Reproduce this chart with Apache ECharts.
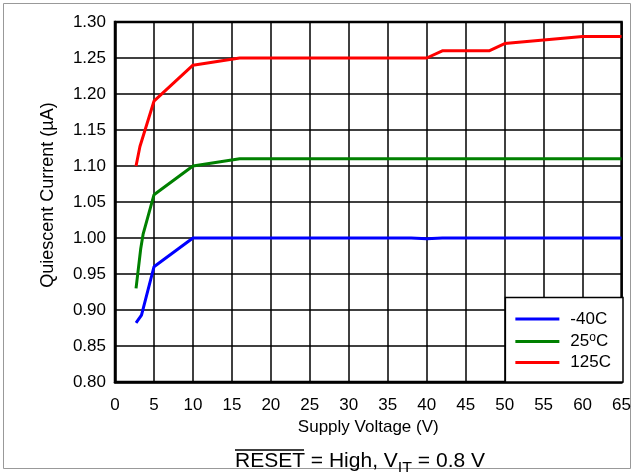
<!DOCTYPE html>
<html>
<head>
<meta charset="utf-8">
<script src="https://cdn.jsdelivr.net/npm/echarts@6/dist/echarts.min.js"></script>
<style>html,body{margin:0;padding:0;background:#fff}#c{width:634px;height:472px}</style>
</head>
<body>
<div id="c"></div>
<script>
// ---- data ----
const xTicksMin = 0, xTicksMax = 65, xTickStep = 5;
const yTicksMin = 0.80, yTicksMax = 1.30, yTickStep = 0.05;

const seriesNames = ['-40C', '25°C', '125C'];
const seriesColors = ['#0000FF', '#008000', '#FF0000'];

const voltM40 = [2.7, 3.4, 5, 10, 38, 40, 42, 65];
const currM40 = [0.882, 0.893, 0.96, 1.00, 1.00, 0.999, 1.00, 1.00];

const volt25 = [2.7, 3.3, 3.6, 5, 10, 16, 65];
const curr25 = [0.93, 0.985, 1.005, 1.06, 1.10, 1.11, 1.11];

const volt125 = [2.7, 3.2, 5, 10, 16, 40, 42, 48, 50, 55, 60, 65];
const curr125 = [1.10, 1.127, 1.19, 1.24, 1.25, 1.25, 1.26, 1.26, 1.27, 1.275, 1.28, 1.28];

const xName = 'Supply Voltage (V)';
const yName = 'Quiescent Current (µA)';

// ---- build ----
const zip = (a, b) => a.map((v, i) => [v, b[i]]);
const allData = [zip(voltM40, currM40), zip(volt25, curr25), zip(volt125, curr125)];
const FONT = '"Liberation Sans", Arial, sans-serif';

const chart = echarts.init(document.getElementById('c'), null, {renderer: 'canvas'});
chart.setOption({
  animation: false,
  backgroundColor: '#fff',
  grid: {left: 115, right: 11, top: 22, bottom: 90, show: true, borderColor: '#000', borderWidth: 2.5, containLabel: false},
  xAxis: {
    type: 'value', min: xTicksMin, max: xTicksMax, interval: xTickStep,
    name: xName, nameLocation: 'middle', nameGap: 28,
    nameTextStyle: {color: '#000', fontSize: 17, fontFamily: FONT},
    axisLine: {show: true, lineStyle: {color: '#000', width: 2.5}},
    axisTick: {show: false},
    axisLabel: {color: '#000', fontSize: 17, fontFamily: FONT, margin: 15},
    splitLine: {show: true, lineStyle: {color: '#000', width: 1.5}}
  },
  yAxis: {
    type: 'value', min: yTicksMin, max: yTicksMax, interval: yTickStep,
    name: yName, nameLocation: 'middle', nameGap: 58,
    nameTextStyle: {color: '#000', fontSize: 18, fontFamily: FONT, padding: [0, 0, 0, 14]},
    axisLine: {show: true, lineStyle: {color: '#000', width: 2.5}},
    axisTick: {show: false},
    axisLabel: {color: '#000', fontSize: 17, fontFamily: FONT, margin: 9, formatter: v => v.toFixed(2)},
    splitLine: {show: true, lineStyle: {color: '#000', width: 1.5}}
  },
  legend: {
    orient: 'vertical', right: 11, bottom: 90,
    backgroundColor: '#fff', borderColor: '#000', borderWidth: 1.5,
    padding: [13, 12, 11, 10], itemGap: 4,
    itemWidth: 44, itemHeight: 14,
    icon: 'path://M0,0 L44,0 L44,3 L0,3 Z',
    data: seriesNames,
    formatter: n => '{n|' + n.replace('°', '}{sup|o}{n|') + '}',
    textStyle: {
      color: '#000', fontFamily: FONT, padding: [0, 0, 0, 6],
      rich: {
        n: {fontSize: 17, lineHeight: 20, fontFamily: FONT, color: '#000'},
        sup: {fontSize: 12, lineHeight: 10, verticalAlign: 'top', fontFamily: FONT, color: '#000'}
      }
    }
  },
  series: allData.map((d, i) => ({
    name: seriesNames[i], type: 'line', data: d, showSymbol: false, symbol: 'none',
    lineStyle: {color: seriesColors[i], width: 3}, itemStyle: {color: seriesColors[i]},
    z: 3 + i
  })),
  graphic: [
    {type: 'rect', shape: {x: 3.5, y: 3.5, width: 627, height: 465}, style: {fill: 'none', stroke: '#999', lineWidth: 1}, silent: true},
    {type: 'text', left: 235, top: 451,
      style: {
        text: '{m|RESET = High, V}{s|IT}{m| = 0.8 V}',
        rich: {
          m: {fontSize: 21, lineHeight: 27, fontFamily: FONT, fill: '#000', verticalAlign: 'top'},
          s: {fontSize: 16, lineHeight: 20, fontFamily: FONT, fill: '#000', verticalAlign: 'bottom'}
        }
      }
    },
    {type: 'line', shape: {x1: 235, y1: 450, x2: 304, y2: 450}, style: {stroke: '#000', lineWidth: 1.3}}
  ]
});
</script>
</body>
</html>
